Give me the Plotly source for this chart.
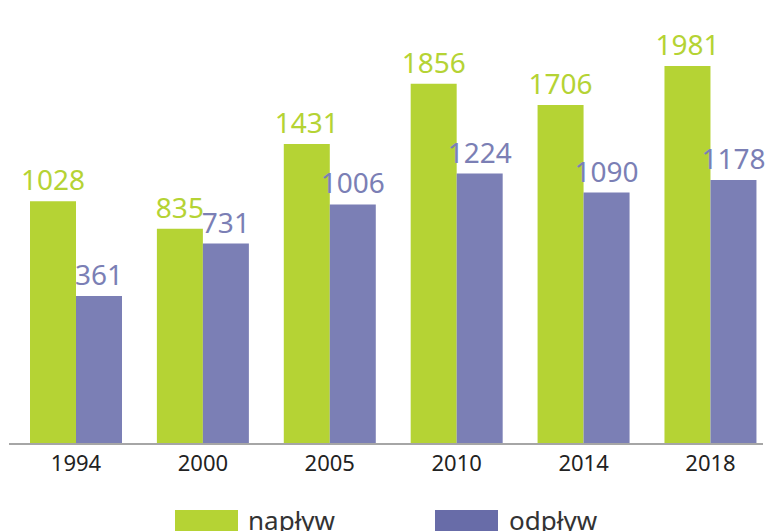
import plotly.graph_objects as go

years = ["1994", "2000", "2005", "2010", "2014", "2018"]
naplyw = [1028, 835, 1431, 1856, 1706, 1981]
odplyw = [361, 731, 1006, 1224, 1090, 1178]
series_names = ["napływ", "odpływ"]

GREEN = "#b5d334"
PURPLE = "#7b7fb5"
PURPLE_LEG = "#686ca8"
Y_MIN = -674
Y_MAX = 2446
FONT = "Noto Sans"

fig = go.Figure()
for name, vals, col in [(series_names[0], naplyw, GREEN), (series_names[1], odplyw, PURPLE)]:
    fig.add_trace(go.Bar(
        x=years,
        y=[v - Y_MIN for v in vals],
        base=Y_MIN,
        name=name,
        marker=dict(color=col, line=dict(width=0)),
        text=[str(v) for v in vals],
        textposition="outside",
        textfont=dict(family=FONT, size=28, color=col),
        constraintext="none",
        cliponaxis=False,
        showlegend=False,
        hoverinfo="skip",
    ))

fig.update_layout(
    width=774, height=531,
    margin=dict(l=9, r=11, t=0, b=88),
    paper_bgcolor="white", plot_bgcolor="white",
    barmode="group", bargap=0.275, bargroupgap=0,
    xaxis=dict(type="category", range=[-0.528, 5.414], showline=True,
               linecolor="#a6a6a6", linewidth=1.5, showgrid=False,
               ticks="", tickfont=dict(family=FONT, size=22, color="#222222"),
               fixedrange=True),
    yaxis=dict(range=[Y_MIN, Y_MAX], visible=False, showgrid=False, zeroline=False,
               fixedrange=True),
)

# custom legend
def px_x(p):
    return (p - 9) / 754.0

def px_y(p):
    return (443 - p) / 443.0

legend_items = [(series_names[0], GREEN, 175, 238, 246), (series_names[1], PURPLE_LEG, 435, 498, 507)]
for name, col, x0, x1, tx in legend_items:
    fig.add_shape(type="rect", xref="paper", yref="paper",
                  x0=px_x(x0), x1=px_x(x1), y0=px_y(510), y1=px_y(540),
                  fillcolor=col, line=dict(width=0))
    fig.add_annotation(text=name, xref="paper", yref="paper",
                       x=px_x(tx), y=px_y(500), xanchor="left", yanchor="top",
                       showarrow=False, font=dict(family=FONT, size=26, color="#333333"))

fig.write_html("out.html", config={"displayModeBar": False},
               post_script="document.body.style.margin='0';document.body.style.overflow='hidden';")
